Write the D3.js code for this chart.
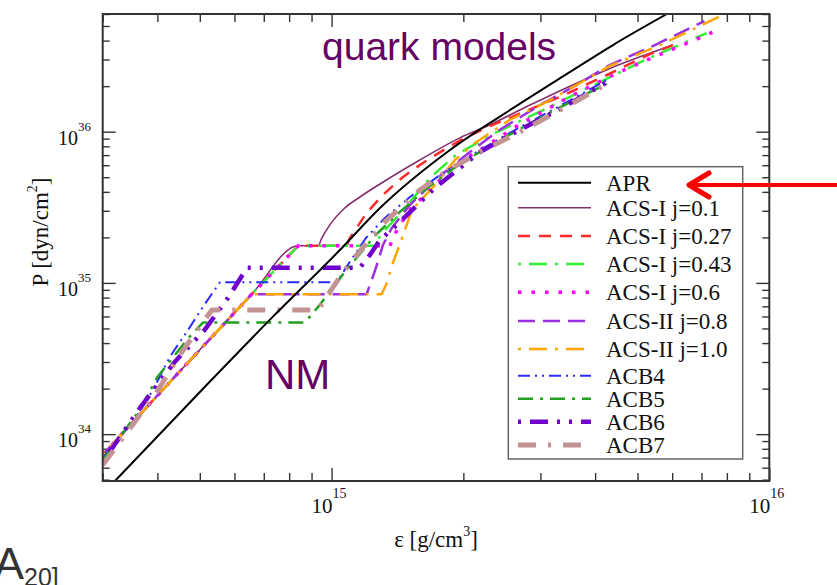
<!DOCTYPE html>
<html>
<head>
<meta charset="utf-8">
<script src="https://cdn.jsdelivr.net/npm/d3@7"></script>
<style>
  body { margin: 0; background: #fff; }
  svg { display: block; }
  .ax line { stroke: #333; stroke-width: 1.4; }
</style>
</head>
<body>
<div id="chart"></div>
<script>
// energy density eps [g/cm^3], pressure P [dyn/cm^2]
const apr = [[3.2e14, 4.9e33], [5.13e14, 2.05e34], [7.30e14, 5.87e34], [1.034e15, 1.60e35], [1.29e15, 3.13e35],
    [1.864e15, 7.57e35], [2.596e15, 1.43e36], [3.449e15, 2.41e36], [4.394e15, 3.74e36], [5.836e15, 6.0e36]];
const acsI01 = [[3.0e14, 7.30e33], [4.38e14, 2.39e34], [6.57e14, 8.42e34], [8.39e14, 1.76e35], [9.32e14, 1.76e35],
    [9.50e14, 1.98e35], [9.91e14, 2.42e35], [1.072e15, 3.13e35], [1.161e15, 3.70e35], [1.29e15, 4.51e35],
    [1.591e15, 6.50e35], [1.964e15, 9.10e35], [2.30e15, 1.11e36], [2.839e15, 1.50e36], [3.504e15, 2.00e36],
    [4.325e15, 2.62e36], [5.197e15, 3.21e36], [6.023e15, 3.74e36]];
const acsI027 = [[3.0e14, 7.30e33], [4.38e14, 2.39e34], [6.57e14, 8.42e34], [8.39e14, 1.76e35], [1.082e15, 1.76e35],
    [1.101e15, 1.98e35], [1.202e15, 2.90e35], [1.31e15, 3.82e35], [1.456e15, 5.02e35], [1.616e15, 6.21e35],
    [1.834e15, 7.80e35], [1.995e15, 8.95e35], [2.30e15, 1.09e36], [2.596e15, 1.26e36], [3.325e15, 1.70e36],
    [4.258e15, 2.37e36], [5.337e15, 3.26e36], [6.023e15, 3.74e36]];
const acsI043 = [[3.0e14, 7.30e33], [4.38e14, 2.39e34], [6.57e14, 8.42e34], [8.39e14, 1.76e35], [1.243e15, 1.76e35],
    [1.324e15, 2.24e35], [1.433e15, 2.86e35], [1.677e15, 4.94e35], [1.923e15, 7.02e35], [2.386e15, 9.95e35],
    [3.105e15, 1.43e36], [4.104e15, 2.13e36], [5.197e15, 2.98e36], [7.194e15, 4.49e36]];
const acsI06 = [[3.0e14, 7.30e33], [4.38e14, 2.39e34], [6.57e14, 8.42e34], [8.39e14, 1.76e35], [1.359e15, 1.76e35],
    [1.417e15, 2.31e35], [1.51e15, 3.04e35], [1.634e15, 3.82e35], [1.913e15, 6.02e35], [2.183e15, 7.57e35],
    [2.693e15, 1.12e36], [3.56e15, 1.75e36], [4.487e15, 2.44e36], [5.253e15, 2.98e36], [6.59e15, 3.92e36],
    [7.716e15, 4.77e36]];
const acsII08 = [[3.0e14, 7.30e33], [4.38e14, 2.39e34], [6.57e14, 8.42e34], [1.202e15, 8.42e34], [1.236e15, 1.05e35],
    [1.276e15, 1.38e35], [1.31e15, 1.78e35], [1.373e15, 2.31e35], [1.51e15, 3.28e35], [1.768e15, 5.10e35],
    [2.07e15, 7.34e35], [2.424e15, 1.03e36], [2.992e15, 1.50e36], [3.636e15, 2.04e36], [4.28e15, 2.72e36],
    [5.479e15, 3.74e36], [7.11e15, 5.39e36]];
const acsII10 = [[3.0e14, 7.30e33], [4.38e14, 2.39e34], [6.57e14, 8.42e34], [1.301e15, 8.42e34], [1.331e15, 9.70e34],
    [1.381e15, 1.36e35], [1.433e15, 1.81e35], [1.526e15, 3.04e35], [1.722e15, 4.44e35], [1.913e15, 6.50e35],
    [2.126e15, 8.42e35], [2.555e15, 1.20e36], [3.072e15, 1.55e36], [4.325e15, 2.72e36], [5.625e15, 3.74e36],
    [7.839e15, 5.91e36]];
const acb4 = [[3.0e14, 6.97e33], [3.58e14, 1.30e34], [3.91e14, 1.96e34], [4.27e14, 3.24e34], [4.75e14, 5.12e34],
    [5.08e14, 6.94e34], [5.56e14, 1.01e35], [1.027e15, 1.01e35], [1.101e15, 1.38e35], [1.198e15, 1.98e35],
    [1.324e15, 2.69e35], [1.51e15, 3.70e35], [1.768e15, 5.17e35], [2.183e15, 7.57e35], [2.693e15, 1.07e36],
    [3.325e15, 1.48e36], [4.258e15, 2.20e36]];
const acb5 = [[3.0e14, 6.76e33], [3.65e14, 1.45e34], [3.99e14, 2.36e34], [4.67e14, 4.20e34], [5.08e14, 5.47e34],
    [8.69e14, 5.47e34], [9.40e14, 7.16e34], [1.072e15, 1.18e35], [1.256e15, 2.05e35], [1.433e15, 2.95e35],
    [1.677e15, 4.38e35], [1.964e15, 6.12e35], [2.424e15, 8.81e35], [2.992e15, 1.23e36], [3.694e15, 1.70e36],
    [4.258e15, 2.07e36]];
const acb6 = [[3.0e14, 6.56e33], [3.65e14, 1.49e34], [4.38e14, 3.00e34], [5.13e14, 4.89e34], [5.80e14, 7.96e34],
    [6.41e14, 1.26e35], [1.161e15, 1.26e35], [1.223e15, 1.53e35], [1.29e15, 1.92e35], [1.41e15, 2.42e35],
    [1.722e15, 4.25e35], [2.183e15, 7.34e35], [2.693e15, 1.03e36], [3.325e15, 1.41e36], [4.258e15, 2.13e36]];
const acb7 = [[3.0e14, 6.27e33], [3.95e14, 1.82e34], [4.50e14, 3.34e34], [5.00e14, 5.12e34], [5.33e14, 6.63e34],
    [9.32e14, 6.63e34], [9.91e14, 8.72e34], [1.072e15, 1.22e35], [1.191e15, 1.78e35], [1.324e15, 2.53e35],
    [1.591e15, 4.12e35], [1.834e15, 5.50e35], [2.183e15, 7.34e35], [2.693e15, 9.95e35], [3.325e15, 1.39e36],
    [4.258e15, 2.07e36]];

const seriesNames = ['APR', 'ACS-I j=0.1', 'ACS-I j=0.27', 'ACS-I j=0.43', 'ACS-I j=0.6', 'ACS-II j=0.8',
    'ACS-II j=1.0', 'ACB4', 'ACB5', 'ACB6', 'ACB7'];
const seriesData = [apr, acsI01, acsI027, acsI043, acsI06, acsII08, acsII10, acb4, acb5, acb6, acb7];
const xDecades = [1e15, 1e16];
const yDecades = [1e34, 1e35, 1e36];

// line styles, same order as the names
const styles = [
    { color: '#000000', width: 2, dash: null, smooth: true },
    { color: '#86306c', width: 1.6, dash: null, smooth: true },
    { color: '#ff2b2b', width: 2.5, dash: '12,9' },
    { color: '#33ee33', width: 2.5, dash: '3,8,18,8' },
    { color: '#ff00ff', width: 3.5, dash: '3.5,10' },
    { color: '#9a30e0', width: 2.5, dash: '17,8' },
    { color: '#ffa500', width: 2.5, dash: '3,8,18,8' },
    { color: '#2b2bff', width: 2, dash: '12,5,2,5,2,5' },
    { color: '#22a022', width: 2.5, dash: '15,7,3,7' },
    { color: '#7000cc', width: 4.5, dash: '3,9,18,9,3,9' },
    { color: '#c49393', width: 5, dash: '18,12,3,12' }
];

const W = 837, H = 585;
const plot = { left: 102.7, right: 769.3, top: 14, bottom: 481 };
const serif = '"Liberation Serif", "Times New Roman", serif';
const sans = '"Liberation Sans", Arial, sans-serif';

const svg = d3.select('#chart').append('svg').attr('width', W).attr('height', H);
svg.append('rect').attr('width', W).attr('height', H).attr('fill', '#fff');

const x = d3.scaleLog().domain([3e14, 1e16]).range([plot.left, plot.right]);
const y = d3.scaleLog().domain([4.9e33, 6e36]).range([plot.bottom, plot.top]);

const isDecade = v => Math.abs(Math.log10(v) - Math.round(Math.log10(v))) < 1e-6;

// ticks on all four sides, pointing inward
function ticks(axis, tr, values, size) {
    const g = svg.append('g').attr('class', 'ax').attr('transform', tr)
        .call(axis.tickValues(values).tickSize(-size).tickSizeOuter(0).tickFormat(''));
    g.select('.domain').remove();
}
const xMinor = x.ticks().filter(v => !isDecade(v));
const yMinor = y.ticks().filter(v => !isDecade(v));
ticks(d3.axisBottom(x), `translate(0,${plot.bottom})`, xMinor, 8);
ticks(d3.axisBottom(x), `translate(0,${plot.bottom})`, xDecades, 13);
ticks(d3.axisTop(x), `translate(0,${plot.top})`, xMinor, 8);
ticks(d3.axisTop(x), `translate(0,${plot.top})`, xDecades, 13);
ticks(d3.axisLeft(y), `translate(${plot.left},0)`, yMinor, 7);
ticks(d3.axisLeft(y), `translate(${plot.left},0)`, yDecades, 13);
ticks(d3.axisRight(y), `translate(${plot.right},0)`, yMinor, 7);
ticks(d3.axisRight(y), `translate(${plot.right},0)`, yDecades, 13);

// curves
svg.append('clipPath').attr('id', 'clip').append('rect')
    .attr('x', plot.left).attr('y', plot.top)
    .attr('width', plot.right - plot.left).attr('height', plot.bottom - plot.top);

const line = d3.line().x(d => x(d[0])).y(d => y(d[1]));
const smoothLine = d3.line().x(d => x(d[0])).y(d => y(d[1])).curve(d3.curveMonotoneX);

const order = d3.range(1, seriesData.length).concat([0]);
svg.append('g').attr('clip-path', 'url(#clip)')
    .selectAll('path')
    .data(order)
    .join('path')
    .attr('d', i => (styles[i].smooth ? smoothLine : line)(seriesData[i]))
    .attr('fill', 'none')
    .attr('stroke', i => styles[i].color)
    .attr('stroke-width', i => styles[i].width)
    .attr('stroke-dasharray', i => styles[i].dash)
    .attr('stroke-linejoin', 'round');

// frame
svg.append('rect')
    .attr('x', plot.left).attr('y', plot.top)
    .attr('width', plot.right - plot.left).attr('height', plot.bottom - plot.top)
    .attr('fill', 'none').attr('stroke', '#333').attr('stroke-width', 2);

// tick labels 10^n
xDecades.forEach(v => {
    const px = x(v) + 1;
    svg.append('text').attr('x', px).attr('y', 513).attr('text-anchor', 'end')
        .attr('font-family', serif).attr('font-size', 21).attr('fill', '#111').text('10');
    svg.append('text').attr('x', px).attr('y', 498)
        .attr('font-family', serif).attr('font-size', 14).attr('fill', '#111').text(Math.round(Math.log10(v)));
});
yDecades.forEach(v => {
    const py = y(v);
    svg.append('text').attr('x', 78).attr('y', py + 13).attr('text-anchor', 'end')
        .attr('font-family', serif).attr('font-size', 20).attr('fill', '#111').text('10');
    svg.append('text').attr('x', 78).attr('y', py - 1)
        .attr('font-family', serif).attr('font-size', 13).attr('fill', '#111').text(Math.round(Math.log10(v)));
});

// axis titles
const xt = svg.append('text').attr('x', 436).attr('y', 547).attr('text-anchor', 'middle')
    .attr('font-family', serif).attr('font-size', 23).attr('fill', '#111');
xt.append('tspan').text('ε [g/cm');
xt.append('tspan').attr('dy', -11).attr('font-size', 14).text('3');
xt.append('tspan').attr('dy', 11).text(']');

const yt = svg.append('text').attr('transform', 'translate(48,232) rotate(-90)').attr('text-anchor', 'middle')
    .attr('font-family', serif).attr('font-size', 23).attr('fill', '#111');
yt.append('tspan').text('P [dyn/cm');
yt.append('tspan').attr('dy', -11).attr('font-size', 14).text('2');
yt.append('tspan').attr('dy', 11).text(']');

// annotations
svg.append('text').attr('x', 322).attr('y', 60).attr('font-family', sans).attr('font-size', 39)
    .attr('fill', '#660066').text('quark models');
svg.append('text').attr('x', 265).attr('y', 389).attr('font-family', sans).attr('font-size', 42)
    .attr('fill', '#660066').text('NM');

// legend
const legendRowY = [182.7, 207.7, 236, 264, 292.3, 321, 349, 375.7, 398.7, 421.7, 445];
svg.append('rect').attr('x', 508.3).attr('y', 166.7).attr('width', 234.4).attr('height', 292.3)
    .attr('fill', '#fff').attr('stroke', '#666').attr('stroke-width', 1.5);
const rows = svg.append('g').selectAll('g').data(seriesNames).join('g')
    .attr('transform', (d, i) => `translate(0,${legendRowY[i]})`);
rows.append('line').attr('x1', 518).attr('x2', 591)
    .attr('stroke', (d, i) => styles[i].color)
    .attr('stroke-width', (d, i) => styles[i].width)
    .attr('stroke-dasharray', (d, i) => styles[i].dash);
rows.append('text').attr('x', 606).attr('y', 8).attr('font-family', serif).attr('font-size', 23)
    .attr('fill', '#111').text(d => d);

// red arrow pointing at APR
svg.append('line').attr('x1', 840).attr('x2', 691).attr('y1', 185).attr('y2', 185)
    .attr('stroke', '#f00').attr('stroke-width', 4);
svg.append('polyline').attr('points', '709,173 689,185 709,197')
    .attr('fill', 'none').attr('stroke', '#f00').attr('stroke-width', 5)
    .attr('stroke-linecap', 'round').attr('stroke-linejoin', 'round');

// slide fragment at bottom left
const frag = svg.append('text').attr('x', -6).attr('y', 579).attr('font-family', sans).attr('fill', '#333');
frag.append('tspan').attr('font-size', 45).text('A');
frag.append('tspan').attr('font-size', 25).attr('dy', 7).text('20]');
</script>
</body>
</html>
